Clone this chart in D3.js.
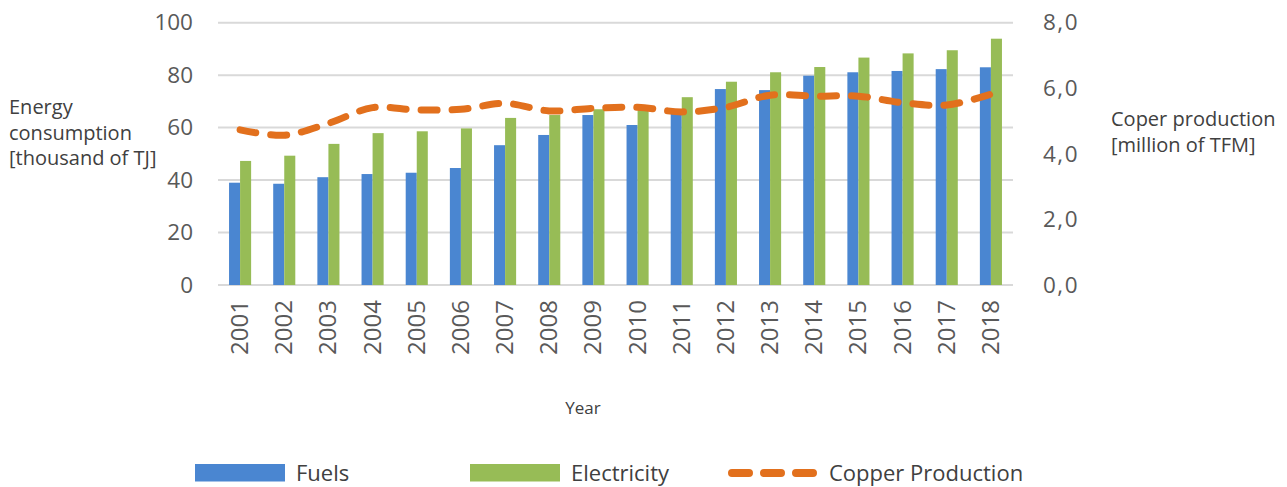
<!DOCTYPE html>
<html>
<head>
<meta charset="utf-8">
<script src="https://cdn.jsdelivr.net/npm/d3@7"></script>
<style>
  html, body { margin: 0; padding: 0; background: #fff; }
  svg { display: block; font-family: "Open Sans", sans-serif; }
</style>
</head>
<body>
<svg id="chart" width="1287" height="487"></svg>
<script>
// Yearly data
const years = ["2001","2002","2003","2004","2005","2006","2007","2008","2009",
               "2010","2011","2012","2013","2014","2015","2016","2017","2018"];
const fuels = [39.0, 38.6, 41.1, 42.3, 42.8, 44.6, 53.3, 57.2, 64.8,
               61.0, 66.1, 74.7, 74.3, 79.8, 81.1, 81.6, 82.3, 83.0];
const electricity = [47.3, 49.3, 53.8, 57.9, 58.6, 59.7, 63.7, 64.8, 67.0,
                     67.5, 71.6, 77.5, 81.1, 83.1, 86.7, 88.3, 89.5, 93.9];
const copper = [4.73, 4.57, 4.93, 5.41, 5.34, 5.36, 5.54, 5.31, 5.39,
                5.42, 5.28, 5.42, 5.79, 5.76, 5.76, 5.56, 5.49, 5.82];
const leftTicks = [0, 20, 40, 60, 80, 100];
const rightTicks = [0, 2, 4, 6, 8];

const colors = { fuels: "#4A86D1", electricity: "#97BC56", copper: "#E2701D",
                 grid: "#D9D9D9", text: "#595959", title: "#404040" };

const svg = d3.select("#chart");
const plot = { left: 218, right: 1013, top: 22.7, bottom: 285 };

const x = d3.scaleBand().domain(years).range([plot.left, plot.right]).paddingInner(0.5).paddingOuter(0.25);
const band = d3.scaleBand().domain(["fuels", "electricity"]).range([0, x.bandwidth()]);
const yL = d3.scaleLinear().domain([0, 100]).range([plot.bottom, plot.top]);
const yR = d3.scaleLinear().domain([0, 8]).range([plot.bottom, plot.top]);

// Horizontal gridlines
svg.append("g")
  .selectAll("line").data(leftTicks).join("line")
  .attr("x1", plot.left).attr("x2", plot.right)
  .attr("y1", d => yL(d)).attr("y2", d => yL(d))
  .attr("stroke", colors.grid).attr("stroke-width", 2);

// Left axis
const leftAxis = svg.append("g")
  .attr("transform", `translate(${plot.left - 25},0)`)
  .call(d3.axisLeft(yL).tickValues(leftTicks).tickSize(0).tickPadding(0));
leftAxis.select(".domain").remove();
leftAxis.selectAll("text")
  .attr("fill", colors.text).attr("font-size", 22.5).attr("font-family", "Open Sans");

// Right axis
const rightAxis = svg.append("g")
  .attr("transform", `translate(${plot.right + 30},0)`)
  .call(d3.axisRight(yR).tickValues(rightTicks).tickSize(0).tickPadding(0)
        .tickFormat(d => d3.format(".1f")(d).replace(".", ",")));
rightAxis.select(".domain").remove();
rightAxis.selectAll("text")
  .attr("fill", colors.text).attr("font-size", 22.5).attr("font-family", "Open Sans")
  .attr("letter-spacing", 1.5);

// Bars
const groups = svg.append("g").selectAll("g").data(years).join("g")
  .attr("transform", d => `translate(${x(d)},0)`);
groups.append("rect")
  .attr("x", band("fuels")).attr("width", band.bandwidth())
  .attr("y", (d, i) => yL(fuels[i])).attr("height", (d, i) => yL(0) - yL(fuels[i]))
  .attr("fill", colors.fuels);
groups.append("rect")
  .attr("x", band("electricity")).attr("width", band.bandwidth())
  .attr("y", (d, i) => yL(electricity[i])).attr("height", (d, i) => yL(0) - yL(electricity[i]))
  .attr("fill", colors.electricity);

// Copper production line (secondary axis)
const line = d3.line()
  .x((d, i) => x(years[i]) + x.bandwidth() / 2)
  .y(d => yR(d))
  .curve(d3.curveCatmullRom.alpha(0.5));
svg.append("path")
  .datum(copper)
  .attr("d", line)
  .attr("fill", "none")
  .attr("stroke", colors.copper)
  .attr("stroke-width", 7)
  .attr("stroke-linecap", "round")
  .attr("stroke-dasharray", "16,15");

// X axis labels (rotated)
svg.append("g").selectAll("text").data(years).join("text")
  .attr("transform", d => `translate(${x(d) + x.bandwidth() / 2 + 8},${plot.bottom + 15}) rotate(-90)`)
  .attr("text-anchor", "end")
  .attr("fill", colors.text).attr("font-size", 24)
  .text(d => d);

// Axis titles
svg.append("text").attr("x", 583).attr("y", 414).attr("text-anchor", "middle")
  .attr("fill", colors.title).attr("font-size", 17).text("Year");

const leftTitle = svg.append("text").attr("fill", colors.title).attr("font-size", 20);
["Energy", "consumption", "[thousand of TJ]"].forEach((t, i) => {
  leftTitle.append("tspan").attr("x", 9).attr("y", 114 + i * 25.7).text(t);
});
const rightTitle = svg.append("text").attr("fill", colors.title).attr("font-size", 20);
["Coper production", "[million of TFM]"].forEach((t, i) => {
  rightTitle.append("tspan").attr("x", 1111).attr("y", 126 + i * 25.7).text(t);
});

// Legend
const legendItems = [
  { key: "fuels", label: "Fuels", x: 195 },
  { key: "electricity", label: "Electricity", x: 470 },
  { key: "copper", label: "Copper Production", x: 728 }
];
const legend = svg.append("g");
legendItems.forEach(item => {
  const g = legend.append("g").attr("transform", `translate(${item.x},0)`);
  if (item.key === "copper") {
    g.append("line").attr("x1", 4).attr("x2", 86).attr("y1", 473).attr("y2", 473)
      .attr("stroke", colors.copper).attr("stroke-width", 8)
      .attr("stroke-linecap", "round").attr("stroke-dasharray", "17,15");
    g.append("text").attr("x", 101).attr("y", 481).attr("fill", colors.title)
      .attr("font-size", 22).text(item.label);
  } else {
    g.append("rect").attr("x", 0).attr("y", 464).attr("width", 90).attr("height", 17.5)
      .attr("fill", colors[item.key]);
    g.append("text").attr("x", 101).attr("y", 481).attr("fill", colors.title)
      .attr("font-size", 22).text(item.label);
  }
});
</script>
</body>
</html>
